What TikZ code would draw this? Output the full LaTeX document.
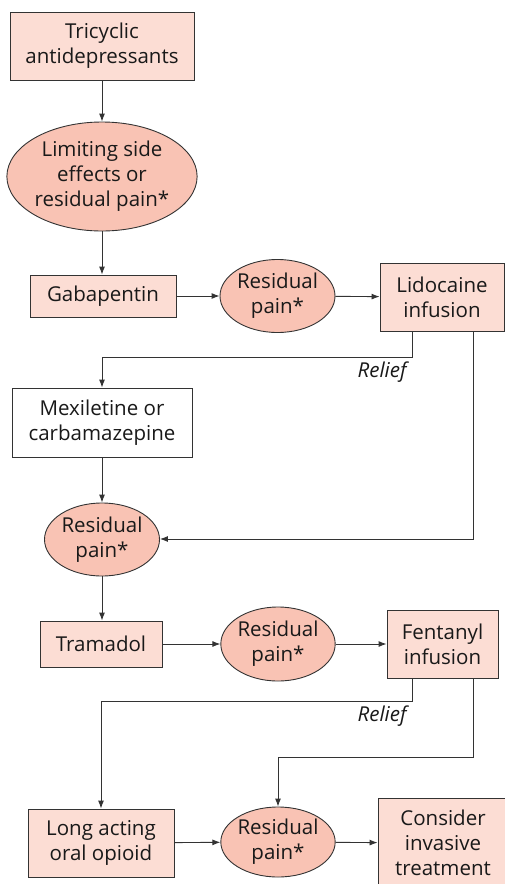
\documentclass[tikz,border=0pt]{standalone}
\usepackage{fontspec}
\setmainfont{Open Sans}
\usetikzlibrary{shapes.geometric,arrows.meta}

\definecolor{boxpink}{HTML}{FCDDD4}
\definecolor{ovalpink}{HTML}{F9C3B4}
\definecolor{lineclr}{HTML}{333333}

\tikzset{
  drug/.style={draw=lineclr, fill=boxpink, line width=0.9pt, align=center,
    inner sep=0pt, text=black!90, font=\fontsize{20.5}{25}\selectfont},
  plainbox/.style={drug, fill=white},
  pain/.style={drug, ellipse, fill=ovalpink},
  flow/.style={draw=lineclr, line width=0.9pt, -{Latex[length=8pt,width=6pt]}},
  relief/.style={anchor=east, text=black!90, font=\fontsize{20.5}{25}\selectfont\itshape}
}

\begin{document}
\begin{tikzpicture}[x=1pt,y=-1pt]
\useasboundingbox (0,0) rectangle (505,884);

% first line of treatment
\node[drug, minimum width=184pt, minimum height=68pt] (tca) at (102,46) {Tricyclic\\antidepressants};
\node[pain, minimum width=171pt, minimum height=109pt] (side) at (102,176.5) {Limiting side\\effects or\\residual pain*};
\node[drug, minimum width=146pt, minimum height=42pt] (gaba) at (103,296) {Gabapentin};
\node[pain, minimum width=115pt, minimum height=73pt] (res1) at (277.5,296) {Residual\\pain*};
\node[drug, minimum width=124pt, minimum height=68pt] (lido) at (442,297) {Lidocaine\\infusion};

% sodium channel blockers
\node[plainbox, minimum width=180pt, minimum height=69pt] (mex) at (102,422.5) {Mexiletine or\\carbamazepine};
\node[pain, minimum width=115pt, minimum height=73pt] (res2) at (102,539.5) {Residual\\pain*};

% opioids
\node[drug, minimum width=122pt, minimum height=46pt] (tram) at (101,644) {Tramadol};
\node[pain, minimum width=114pt, minimum height=74pt] (res3) at (278,644) {Residual\\pain*};
\node[drug, minimum width=111pt, minimum height=68pt] (fent) at (442.5,644) {Fentanyl\\infusion};
\node[drug, minimum width=146pt, minimum height=68pt] (oral) at (101,843) {Long acting\\oral opioid};
\node[pain, minimum width=114pt, minimum height=70pt] (res4) at (278,842) {Residual\\pain*};
\node[drug, minimum width=130pt, minimum height=90pt] (cons) at (443,843) {Consider\\invasive\\treatment};

\node[relief] (rel1) at (410,372) {Relief};
\node[relief] (rel2) at (410,716) {Relief};

\coordinate (r1) at (412,357);
\coordinate (b1) at (473,539);
\coordinate (r2) at (412,701);
\coordinate (b2) at (473,757);

\draw[flow] (tca) -- (side);
\draw[flow] (side.south) -- (side.south |- gaba.north);
\draw[flow] (gaba) -- (res1);
\draw[flow] (res1) -- (lido);
\draw[flow] (lido.south -| r1) -- (r1) -| (mex.north);
\draw[flow] (lido.south -| b1) -- (b1) -- (res2.east |- b1);
\draw[flow] (mex) -- (res2);
\draw[flow] (res2.south) -- (res2.south |- tram.north);
\draw[flow] (tram) -- (res3);
\draw[flow] (res3) -- (fent);
\draw[flow] (fent.south -| r2) -- (r2) -| (oral.north);
\draw[flow] (fent.south -| b2) -- (b2) -| (res4.north);
\draw[flow] (oral) -- (res4);
\draw[flow] (res4) -- (cons);
\end{tikzpicture}
\end{document}
